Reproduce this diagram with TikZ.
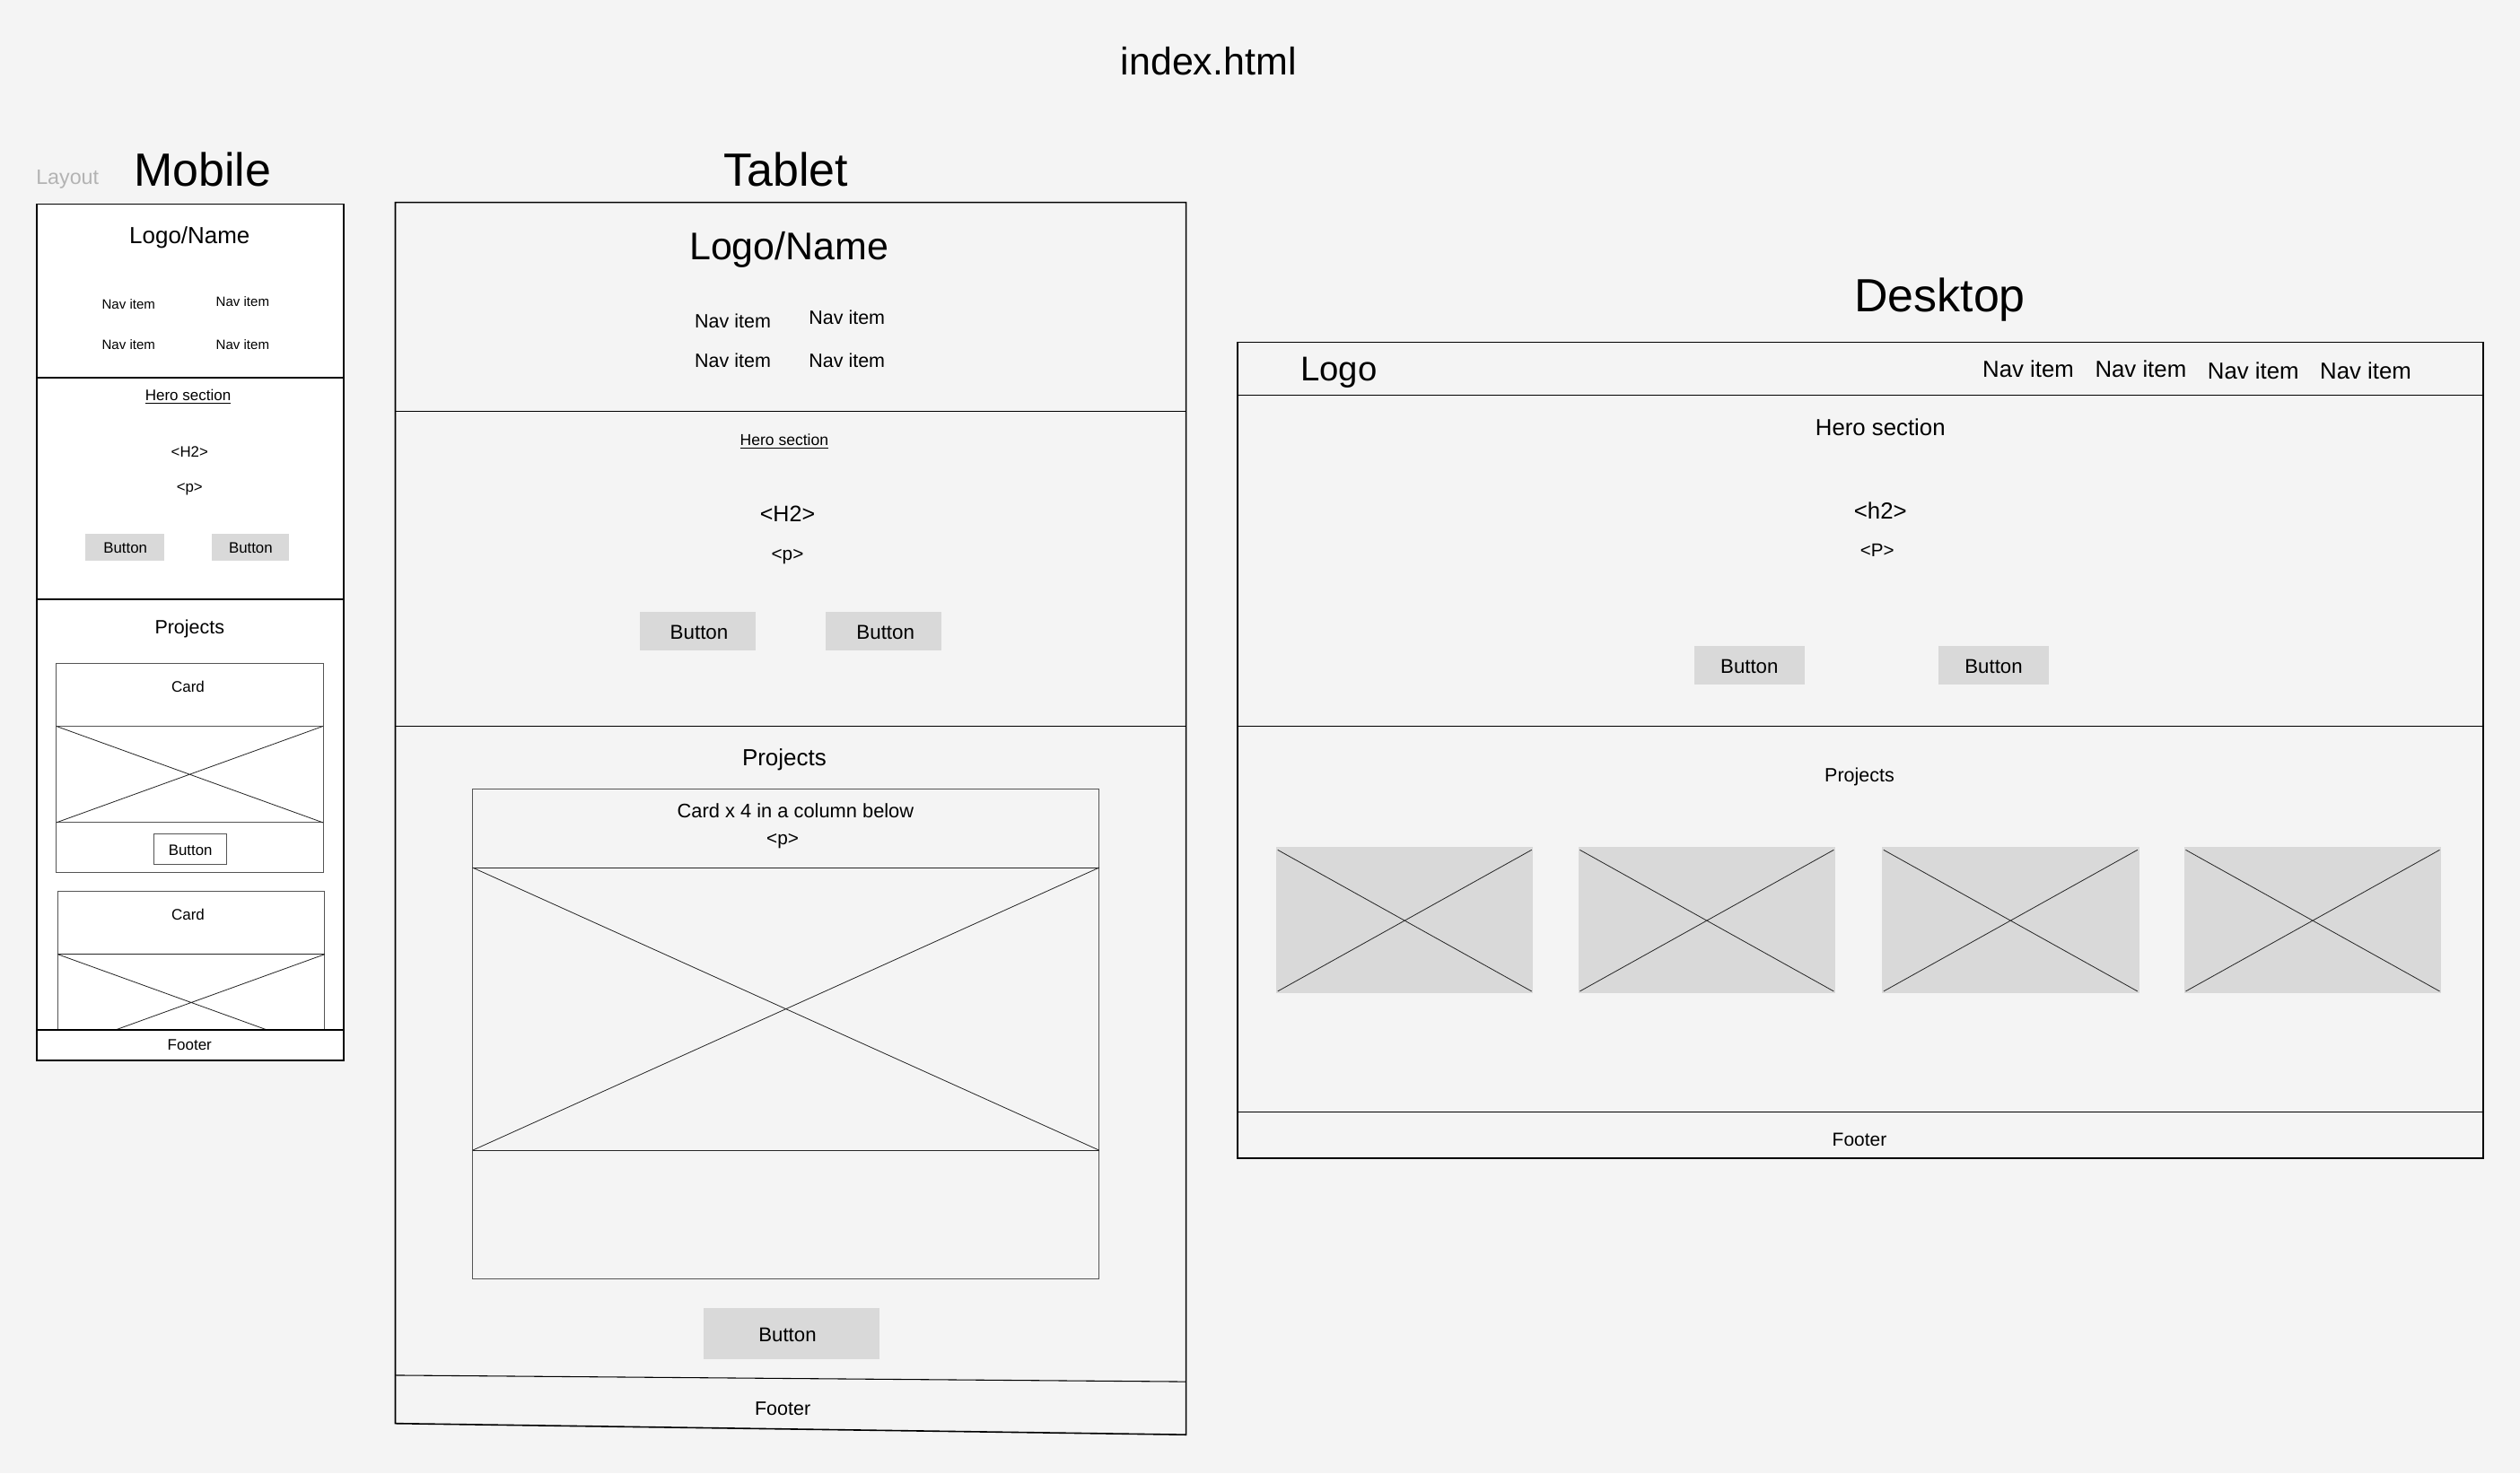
\documentclass[tikz,border=0pt]{standalone}
\usepackage{fontspec}
\setmainfont{Liberation Sans}
\definecolor{bg}{HTML}{F4F4F4}
\definecolor{btnfill}{HTML}{D9D9D9}
\definecolor{laygray}{HTML}{B3B3B3}
\definecolor{cardline}{HTML}{555555}
\begin{document}
\begin{tikzpicture}[x=1pt,y=-1pt,
  fs/.style={font=\fontsize{#1}{#1}\selectfont, inner sep=0pt, yshift={-0.05*#1}},
  frame/.style={draw=black, line width=0.9pt},
  divider/.style={draw=black, line width=0.8pt},
  thin/.style={draw=cardline, line width=0.5pt},
  xline/.style={draw=black!85, line width=0.45pt},
  btn/.style={fill=btnfill, draw=none},
  obtn/.style={fill=white, draw=cardline, line width=0.5pt}]

% page
\fill[bg] (0,0) rectangle (1568,917);
\useasboundingbox (0,0) rectangle (1568,917);

% headings
\node[fs=24] (title) at (752,37) {index.html};
\node[fs=13, text=laygray] (layout) at (42,111) {Layout};
\node[fs=29] (mobtitle) at (126,104) {Mobile};
\node[fs=29] (tabtitle) at (489,104) {Tablet};
\node[fs=29] (desktitle) at (1207,185) {Desktop};

% ---------------- Mobile ----------------
\fill[white] (23,127) rectangle (214,660);
\node[fs=14.5] (mlogo) at (118,147) {Logo/Name};
\node[fs=8.4] (mnav1) at (80,189) {Nav item};
\node[fs=8.4] (mnav2) at (151,187) {Nav item};
\node[fs=8.4] (mnav3) at (80,214) {Nav item};
\node[fs=8.4] (mnav4) at (151,214) {Nav item};
\draw[divider] (23,235) -- (214,235);

\node[fs=9.5] (mhero) at (117,246.5) {\underline{Hero section}};
\node[fs=9.4] (mh2) at (118,281) {<H2>};
\node[fs=9.4] (mp) at (118,304) {<p>};
\path[btn] (53,332) rectangle (102,349);
\node[fs=9.4] (mbtn1) at (78,340.5) {Button};
\path[btn] (132,332) rectangle (180,349);
\node[fs=9.4] (mbtn2) at (156,340.5) {Button};
\draw[divider] (23,373) -- (214,373);

\node[fs=12] (mproj) at (118,391) {Projects};
% card 1
\draw[thin] (35,413) rectangle (201,543);
\node[fs=9.5] (mcard1) at (117,427) {Card};
\draw[thin] (35,452) -- (201,452);
\draw[thin] (35,512) -- (201,512);
\draw[xline] (35,452) -- (201,512) (35,512) -- (201,452);
\draw[obtn] (96,519) rectangle (141,538);
\node[fs=9.4] (mcardbtn) at (118.5,528.5) {Button};
% card 2, cut off by the footer
\begin{scope}
  \clip (23,127) rectangle (214,641);
  \draw[thin] (36,555) rectangle (202,700);
  \node[fs=9.5] (mcard2) at (117,569) {Card};
  \draw[xline] (36,594) -- (202,594);
  \draw[xline] (36,594) -- (202,654) (36,654) -- (202,594);
\end{scope}
\draw[divider] (23,641) -- (214,641);
\node[fs=9.5] (mfooter) at (118,650) {Footer};
\draw[frame] (23,127) rectangle (214,660);

% ---------------- Tablet ----------------
\node[fs=24] (tlogo) at (491,154) {Logo/Name};
\node[fs=12] (tnav1) at (456,199) {Nav item};
\node[fs=12] (tnav2) at (527,197) {Nav item};
\node[fs=12] (tnav3) at (456,224) {Nav item};
\node[fs=12] (tnav4) at (527,224) {Nav item};
\draw[divider] (246,256) -- (738,256);

\node[fs=9.8] (thero) at (488,274.5) {\underline{Hero section}};
\node[fs=14] (th2) at (490,319) {<H2>};
\node[fs=11.6] (tp) at (490,346) {<p>};
\path[btn] (398,381) rectangle (470,405);
\node[fs=12.5] (tbtn1) at (435,393) {Button};
\path[btn] (514,381) rectangle (586,405);
\node[fs=12.5] (tbtn2) at (551,393) {Button};
\draw[divider] (246,452) -- (738,452);

\node[fs=14.5] (tproj) at (488,472) {Projects};
\draw[thin] (294,491) rectangle (684,796);
\node[fs=12.2] (tcard) at (495,504) {Card x 4 in a column below};
\node[fs=11.6] (tcardp) at (487,523) {<p>};
\draw[xline] (294,540) -- (684,540);
\draw[xline] (294,716) -- (684,716);
\draw[xline] (294,540) -- (684,716) (294,716) -- (684,540);
\path[btn] (438,814) rectangle (547,846);
\node[fs=12.4] (tbtn3) at (490,830) {Button};

\draw[line width=0.6pt] (246,856) -- (738,860);
\node[fs=12] (tfooter) at (487,876) {Footer};
\draw[frame] (246,126) -- (738,126) -- (738,893) -- (246,886) -- cycle;

% ---------------- Desktop ----------------
\node[fs=21.4] (dlogo) at (833,231) {Logo};
\node[fs=14.4] (dnav1) at (1262,229) {Nav item};
\node[fs=14.4] (dnav2) at (1332,229) {Nav item};
\node[fs=14.4] (dnav3) at (1402,230) {Nav item};
\node[fs=14.4] (dnav4) at (1472,230) {Nav item};
\draw[divider] (770,246) -- (1545,246);

\node[fs=14.4] (dhero) at (1170,265) {Hero section};
\node[fs=14.4] (dh2) at (1170,317) {<h2>};
\node[fs=11.5] (dp) at (1168,342) {<P>};
\path[btn] (1054,402) rectangle (1123,426);
\node[fs=12.4] (dbtn1) at (1088.5,414) {Button};
\path[btn] (1206,402) rectangle (1275,426);
\node[fs=12.4] (dbtn2) at (1240.5,414) {Button};
\draw[divider] (770,452) -- (1545,452);

\node[fs=12] (dproj) at (1157,483) {Projects};
\foreach \xa in {794,982,1171,1359}{
  \path[btn] (\xa,527) rectangle ({\xa+160},618);
  \draw[xline] ({\xa+1},529) -- ({\xa+159},617) ({\xa+1},617) -- ({\xa+159},529);
}
\draw[divider] (770,692) -- (1545,692);
\node[fs=11.7] (dfooter) at (1157,709) {Footer};
\draw[frame] (770,213) rectangle (1545,721);
\end{tikzpicture}
\end{document}
